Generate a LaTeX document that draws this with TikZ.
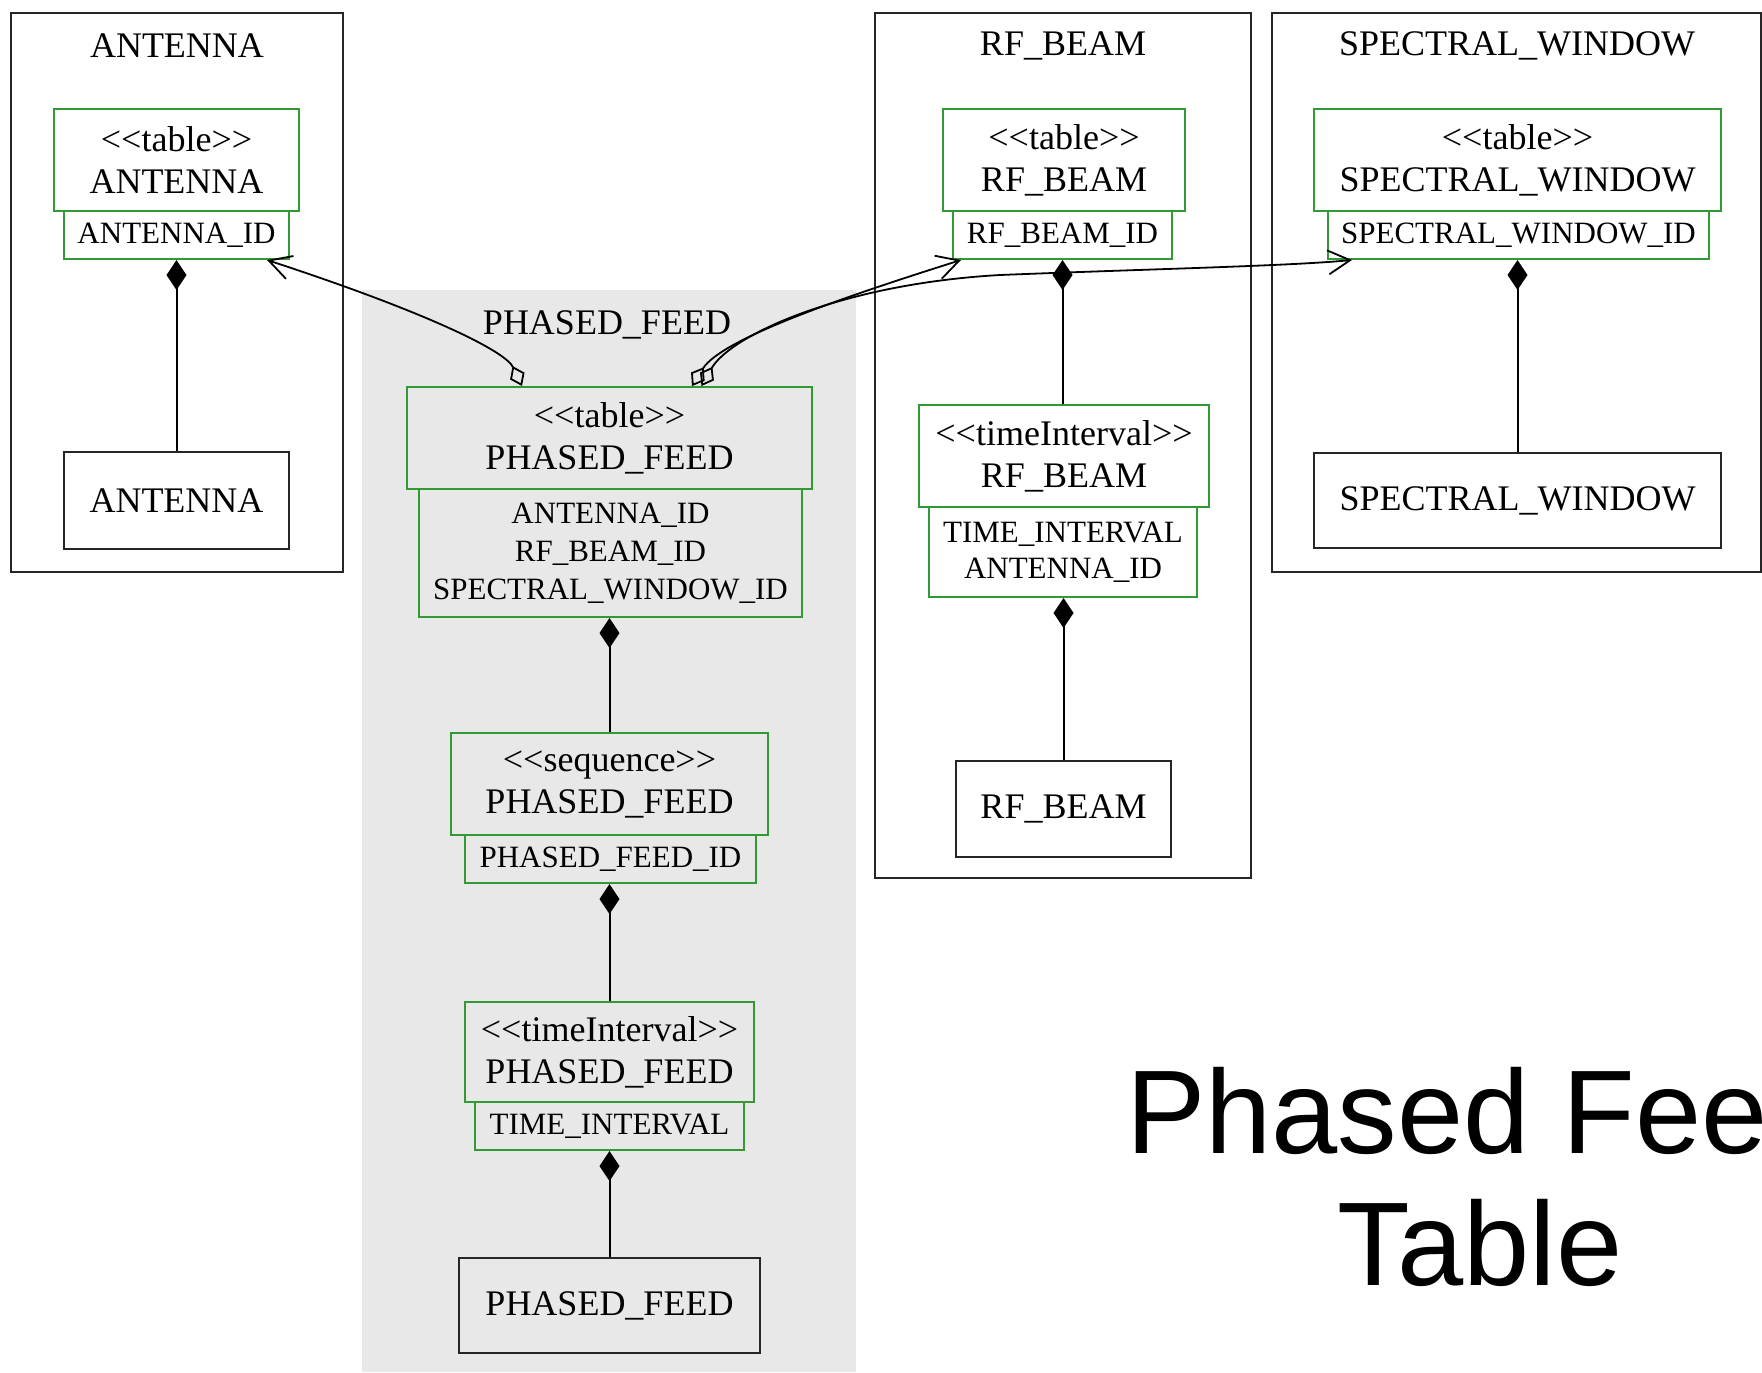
\documentclass[tikz,border=0pt]{standalone}
\usepackage{fontspec}
\setmainfont{Liberation Serif}
\newfontfamily\titlefont{Liberation Sans}
\usetikzlibrary{arrows.meta}
\definecolor{umlgreen}{RGB}{51,153,51}
\definecolor{pfgray}{RGB}{232,232,232}
\newcommand{\stereo}[1]{<\kern0pt<#1>\kern0pt>}
\begin{document}
\begin{tikzpicture}[x=0.5pt,y=-0.5pt,
  cluster/.style={draw=black!85,line width=1.2pt},
  ctitle/.style={inner sep=0pt,font=\fontsize{18pt}{21pt}\selectfont},
  tabbox/.style={draw=umlgreen,line width=1pt,align=center,inner sep=0pt,font=\fontsize{18pt}{21pt}\selectfont},
  attbox/.style={draw=umlgreen,line width=1pt,align=center,inner sep=0pt,font=\fontsize{15.5pt}{18pt}\selectfont},
  plainbox/.style={draw=black!85,line width=1pt,inner sep=0pt,font=\fontsize{18pt}{21pt}\selectfont},
  comp/.style={line width=1pt,-{Diamond[length=15pt,width=10pt]}},
  refedge/.style={line width=0.9pt,{Diamond[open,length=11pt,width=8pt]}-{Straight Barb[length=11pt,width=12pt]}},
  bigtitle/.style={inner sep=0pt,anchor=base,font=\titlefont\fontsize{59.5pt}{66pt}\selectfont},
]
\useasboundingbox (0,0) rectangle (1762,1372);
\fill[white] (0,0) rectangle (1762,1372);

% clusters
\draw[cluster] (11,13) rectangle (343,572);
\fill[pfgray] (362,290) rectangle (856,1372);
\draw[cluster] (875,13) rectangle (1251,878);
\draw[cluster] (1272,13) rectangle (1761,572);

\node[ctitle] (tA) at (177,46) {ANTENNA};
\node[ctitle] (tPF) at (607,325) {PHASED\_FEED};
\node[ctitle] (tRF) at (1063,46) {RF\_BEAM};
\node[ctitle] (tSW) at (1517,46) {SPECTRAL\_WINDOW};

% ANTENNA
\node[tabbox,minimum width=122.5pt,minimum height=51pt] (atab) at (176.5,160) {\stereo{table}\\ANTENNA};
\node[attbox,minimum width=112.5pt,minimum height=24pt] (aid) at (176.5,235) {ANTENNA\_ID};
\node[plainbox,minimum width=112.5pt,minimum height=48.5pt] (abox) at (176.5,500.5) {ANTENNA};

% PHASED_FEED
\node[tabbox,minimum width=202.5pt,minimum height=51pt] (pftab) at (609.5,438) {\stereo{table}\\PHASED\_FEED};
\node[attbox,minimum width=191.5pt,minimum height=64pt,font=\fontsize{15.5pt}{19pt}\selectfont] (pfatt) at (610.5,553) {ANTENNA\_ID\\RF\_BEAM\_ID\\SPECTRAL\_WINDOW\_ID};
\node[tabbox,minimum width=158.5pt,minimum height=51pt] (pfseq) at (609.5,784) {\stereo{sequence}\\PHASED\_FEED};
\node[attbox,minimum width=145.5pt,minimum height=24pt] (pfsid) at (610.5,859) {PHASED\_FEED\_ID};
\node[tabbox,minimum width=144.5pt,minimum height=50pt] (pfti) at (609.5,1052) {\stereo{timeInterval}\\PHASED\_FEED};
\node[attbox,minimum width=134.5pt,minimum height=24pt] (pftid) at (609.5,1126) {TIME\_INTERVAL};
\node[plainbox,minimum width=150.5pt,minimum height=47.5pt] (pfbox) at (609.5,1305.5) {PHASED\_FEED};

% RF_BEAM
\node[tabbox,minimum width=121pt,minimum height=51pt] (rftab) at (1064,160) {\stereo{table}\\RF\_BEAM};
\node[attbox,minimum width=109.5pt,minimum height=24pt] (rfid) at (1062.5,235) {RF\_BEAM\_ID};
\node[tabbox,minimum width=145pt,minimum height=51pt] (rfti) at (1064,456) {\stereo{timeInterval}\\RF\_BEAM};
\node[attbox,minimum width=134pt,minimum height=45pt] (rftid) at (1063,552) {TIME\_INTERVAL\\ANTENNA\_ID};
\node[plainbox,minimum width=107.5pt,minimum height=48pt] (rfbox) at (1063.5,809) {RF\_BEAM};

% SPECTRAL_WINDOW
\node[tabbox,minimum width=203.5pt,minimum height=51pt] (swtab) at (1517.5,160) {\stereo{table}\\SPECTRAL\_WINDOW};
\node[attbox,minimum width=190.5pt,minimum height=24pt] (swid) at (1518.5,235) {SPECTRAL\_WINDOW\_ID};
\node[plainbox,minimum width=203.5pt,minimum height=47.5pt] (swbox) at (1517.5,500.5) {SPECTRAL\_WINDOW};

% composition edges
\draw[comp] (abox.north) -- (abox.north |- aid.south);
\draw[comp] (pfseq.north) -- (pfseq.north |- pfatt.south);
\draw[comp] (pfti.north) -- (pfti.north |- pfsid.south);
\draw[comp] (pfbox.north) -- (pfbox.north |- pftid.south);
\draw[comp] (rfti.north -| rfid.south) -- (rfid.south);
\draw[comp] (rfbox.north) -- (rfbox.north |- rftid.south);
\draw[comp] (swbox.north) -- (swbox.north |- swid.south);

% reference edges
\draw[refedge] ([shift={(-87.5,0)}]pftab.north) .. controls (505,350) and (420,310) .. ([shift={(-23,0)}]aid.south east);
\draw[refedge] ([shift={(82.5,0)}]pftab.north) .. controls (722,338) and (850,295) .. ([shift={(9,0)}]rfid.south west);
\draw[refedge] ([shift={(92,0)}]pftab.north) .. controls (730,336) and (840,284) .. (1000,275) .. controls (1150,269) and (1290,266) .. ([shift={(25,0)}]swid.south west);

% big title
\node[bigtitle] (bt1) at (1480,1153) {Phased Feed};
\node[bigtitle] (bt2) at (1480,1285) {Table};
\end{tikzpicture}
\end{document}
